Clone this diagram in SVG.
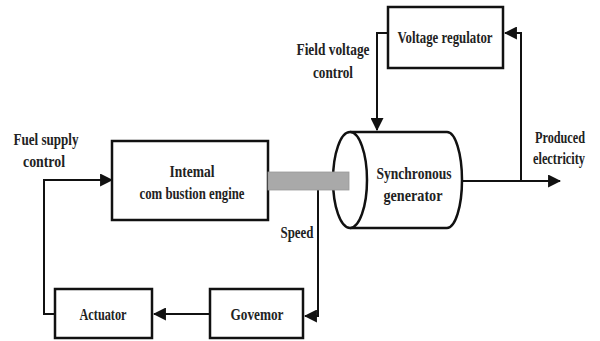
<svg xmlns="http://www.w3.org/2000/svg" width="600" height="341" viewBox="0 0 600 341">
<style>
.box{fill:#fff;stroke:#111;stroke-width:2.5}
.ln{fill:none;stroke:#111;stroke-width:2}
.t{font-family:"Liberation Serif","Times New Roman",serif;font-weight:bold;font-size:16px;fill:#222;text-anchor:middle}
</style>
<defs>
<marker id="ah" markerUnits="userSpaceOnUse" markerWidth="13" markerHeight="13" viewBox="0 0 12 12" refX="11" refY="6" orient="auto">
<path d="M0,0 L12,6 L0,12 Z" fill="#111"/>
</marker>
</defs>
<rect width="600" height="341" fill="#fff"/>
<g id="connectors">
<path class="ln" d="M388,33 H377 V130" marker-end="url(#ah)"/>
<path class="ln" d="M521,181 V33 H505" marker-end="url(#ah)"/>
<path class="ln" d="M462,181 H560" marker-end="url(#ah)"/>
<path class="ln" d="M318,190 V316 H305" marker-end="url(#ah)"/>
<path class="ln" d="M210,314 H154" marker-end="url(#ah)"/>
<path class="ln" d="M55,314 H44 V180 H112" marker-end="url(#ah)"/>
</g>
<g id="voltage-regulator">
<rect class="box" x="388" y="7" width="115" height="61"/>
<text class="t" x="445" y="43" textLength="95" lengthAdjust="spacingAndGlyphs">Voltage regulator</text>
</g>
<g id="engine">
<rect class="box" x="112" y="141" width="156" height="79"/>
<text class="t" x="192" y="177" textLength="45" lengthAdjust="spacingAndGlyphs">Intemal</text>
<text class="t" x="192" y="199" textLength="105" lengthAdjust="spacingAndGlyphs">com bustion engine</text>
</g>
<g id="generator">
<path class="box" d="M350,132 H447 A15,48 0 0 1 447,228 H350"/>
<ellipse class="box" cx="350" cy="180" rx="17" ry="48"/>
<text class="t" x="414" y="179" textLength="75" lengthAdjust="spacingAndGlyphs">Synchronous</text>
<text class="t" x="413" y="201" textLength="59" lengthAdjust="spacingAndGlyphs">generator</text>
</g>
<g id="shaft">
<rect x="268" y="172" width="81" height="18" fill="#a9a9a9" stroke="#999" stroke-width="0.8"/>
</g>
<g id="actuator">
<rect class="box" x="55" y="289" width="97" height="49"/>
<text class="t" x="103" y="320" textLength="47" lengthAdjust="spacingAndGlyphs">Actuator</text>
</g>
<g id="governor">
<rect class="box" x="210" y="289" width="93" height="49"/>
<text class="t" x="257" y="320" textLength="53" lengthAdjust="spacingAndGlyphs">Govemor</text>
</g>
<g id="labels">
<text class="t" x="333" y="55" textLength="73" lengthAdjust="spacingAndGlyphs">Field voltage</text>
<text class="t" x="333" y="78" textLength="40" lengthAdjust="spacingAndGlyphs">control</text>
<text class="t" x="46" y="145" textLength="65" lengthAdjust="spacingAndGlyphs">Fuel supply</text>
<text class="t" x="44" y="167" textLength="42" lengthAdjust="spacingAndGlyphs">control</text>
<text class="t" x="560" y="143" textLength="50" lengthAdjust="spacingAndGlyphs">Produced</text>
<text class="t" x="559" y="164" textLength="52" lengthAdjust="spacingAndGlyphs">electricity</text>
<text class="t" x="297" y="238" textLength="33" lengthAdjust="spacingAndGlyphs">Speed</text>
</g>
</svg>
